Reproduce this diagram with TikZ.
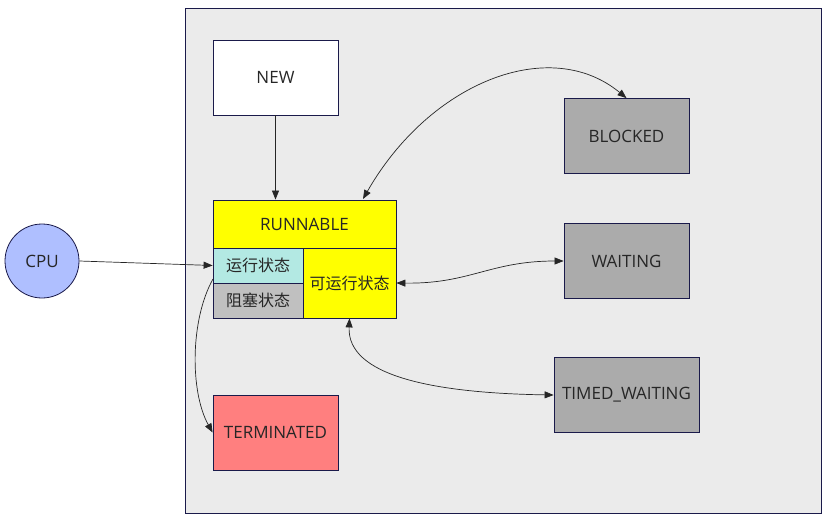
\documentclass[tikz,border=0pt]{standalone}
\usepackage{fontspec}
\setmainfont{Open Sans}
\newfontfamily\cjk{Noto Sans CJK SC}
\usetikzlibrary{arrows.meta}
\definecolor{edge}{HTML}{1A1A4A}
\definecolor{panel}{HTML}{EBEBEB}
\definecolor{stopped}{HTML}{ABABAB}
\definecolor{ready}{HTML}{FFFF00}
\definecolor{running}{HTML}{B3E9E3}
\definecolor{waitcell}{HTML}{C0C0C0}
\definecolor{dead}{HTML}{FF7F7F}
\definecolor{cpu}{HTML}{AFBFFF}
\tikzset{
  state/.style={rectangle, draw=edge, line width=0.8pt, minimum width=125pt, minimum height=75pt, text centered, inner sep=0pt, text=black!85, font=\fontsize{17}{20}\selectfont},
  cell/.style={state, font=\fontsize{16}{19}\selectfont\cjk},
  link/.style={draw=black!85, line width=0.7pt},
  tip/.style={-{Triangle[length=9pt,width=7pt]}},
  twotip/.style={{Triangle[length=9pt,width=7pt]}-{Triangle[length=9pt,width=7pt]}},
}
\begin{document}
\begin{tikzpicture}[x=1pt,y=-1pt]
\useasboundingbox (0,0) rectangle (830,522);
\draw[draw=edge, line width=0.8pt, fill=panel] (185,8) rectangle (821,513);
\node[state, fill=white] (NEW) at (275.5,77.5) {NEW};
\node[state, fill=stopped] (BLK) at (626.5,136) {BLOCKED};
\node[state, fill=stopped] (WAIT) at (626.5,261) {WAITING};
\node[state, fill=stopped, minimum width=145pt] (TW) at (626.5,395) {TIMED\_WAITING};
\node[state, fill=dead] (TERM) at (275.5,432.5) {TERMINATED};
\node[state, fill=ready, minimum width=183pt, minimum height=49pt] (RUN) at (304.5,224.5) {RUNNABLE};
\node[cell, fill=running, minimum width=90pt, minimum height=35pt] (R1) at (258,265.5) {运行状态};
\node[cell, fill=waitcell, minimum width=90pt, minimum height=35pt] (R2) at (258,300.5) {阻塞状态};
\node[cell, fill=ready, minimum width=93pt, minimum height=70pt] (R3) at (349.5,283) {可运行状态};
\node[circle, draw=edge, line width=0.8pt, fill=cpu, minimum size=74pt, inner sep=0pt, text=black!85, font=\fontsize{17}{20}\selectfont] (CPU) at (42,261) {CPU};
\coordinate (P1) at (363,199);
\coordinate (P2) at (213,279);
\draw[link, tip] (NEW) -- (NEW |- RUN.north);
\draw[link, tip] (CPU.east) -- (R1.west);
\draw[link, twotip] (P1) .. controls (430,82) and (550,35) .. (BLK.north);
\draw[link, twotip] (R3.east) .. controls (470,284) and (490,261) .. (WAIT.west);
\draw[link, twotip] (R3.south) .. controls (347,375) and (430,393) .. (TW.west);
\draw[link, tip] (P2) .. controls (190,320) and (190,392) .. (TERM.west);
\end{tikzpicture}
\end{document}
